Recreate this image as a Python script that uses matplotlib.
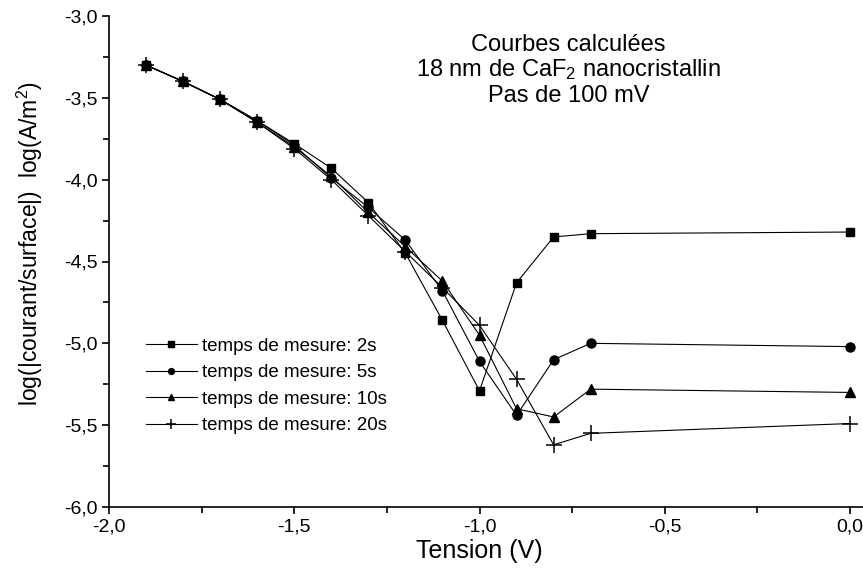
import numpy as np
import matplotlib
matplotlib.use('Agg')
import matplotlib.pyplot as plt
from matplotlib.ticker import MultipleLocator, FuncFormatter

plt.rcParams['font.family'] = ['Liberation Sans', 'DejaVu Sans']
plt.rcParams['mathtext.fontset'] = 'custom'
plt.rcParams['mathtext.rm'] = 'Liberation Sans'
plt.rcParams['mathtext.it'] = 'Liberation Sans:italic'

# tension (V)
tension = [-1.9, -1.8, -1.7, -1.6, -1.5, -1.4, -1.3, -1.2, -1.1, -1.0, -0.9, -0.8, -0.7, 0.0]

# log(|courant/surface|)
t2s = [-3.30, -3.40, -3.51, -3.64, -3.78, -3.93, -4.14, -4.45, -4.86, -5.29, -4.63, -4.35, -4.33, -4.32]
t5s = [-3.30, -3.40, -3.51, -3.64, -3.79, -3.99, -4.17, -4.37, -4.68, -5.11, -5.44, -5.10, -5.00, -5.02]
t10s = [-3.30, -3.40, -3.51, -3.65, -3.80, -3.98, -4.20, -4.41, -4.62, -4.95, -5.40, -5.45, -5.28, -5.30]
t20s = [-3.30, -3.40, -3.51, -3.65, -3.81, -4.00, -4.22, -4.44, -4.66, -4.89, -5.22, -5.62, -5.55, -5.49]

labels = ['temps de mesure: 2s', 'temps de mesure: 5s',
          'temps de mesure: 10s', 'temps de mesure: 20s']

notes = ['Courbes calculées', '18 nm de CaF$_2$ nanocristallin', 'Pas de 100 mV']

fig = plt.figure(figsize=(8.63, 5.87), dpi=100)
ax = fig.add_axes([109/863, 1 - 507/587, 1 - 109/863, (507 - 16)/587])

ax.plot(tension, t2s, 'k-', lw=0.8, marker='s', ms=6, label=labels[0])
ax.plot(tension, t5s, 'k-', lw=0.8, marker='o', ms=6.5, label=labels[1])
ax.plot(tension, t10s, 'k-', lw=0.8, marker='^', ms=7, label=labels[2])
ax.plot(tension, t20s, 'k-', lw=0.8, marker='+', ms=12, mew=1.1, label=labels[3])

ax.set_xlim(-2.0, 0.035)
ax.set_ylim(-6.0, -3.0)

ax.spines['top'].set_visible(False)
ax.spines['right'].set_visible(False)
ax.spines['left'].set_linewidth(1.2)
ax.spines['bottom'].set_linewidth(1.2)

ax.xaxis.set_major_locator(MultipleLocator(0.5))
ax.xaxis.set_minor_locator(MultipleLocator(0.25))
ax.yaxis.set_major_locator(MultipleLocator(0.5))
ax.yaxis.set_minor_locator(MultipleLocator(0.25))
fmt = FuncFormatter(lambda v, p: ('%.1f' % v).replace('.', ','))
ax.xaxis.set_major_formatter(fmt)
ax.yaxis.set_major_formatter(fmt)
ax.tick_params(which='major', direction='out', length=5, width=1.2, labelsize=14, pad=3)
ax.tick_params(which='minor', direction='out', length=4, width=1.2)

ax.set_xlabel('Tension (V)', fontsize=18, labelpad=3)
ax.set_ylabel('log(|courant/surface|)  log(A/m$^2$)', fontsize=16.5, labelpad=14)
# labels centred on the -2..0 range like the original
ax.xaxis.label.set_x(1.0 / 2.035)
ax.yaxis.label.set_y(0.537)

# annotation lines, one text each
for txt, yy in zip(notes, [-3.18, -3.33, -3.49]):
    ax.text(-0.76, yy, txt, ha='center', va='center', fontsize=17)

ax.legend(loc='upper left', bbox_to_anchor=(0.049, 0.345), frameon=False, fontsize=13.5,
          handlelength=2.7, markerscale=0.65, labelspacing=0.5, handletextpad=0.3,
          borderpad=0, borderaxespad=0)

fig.savefig('out.png', dpi=100)
